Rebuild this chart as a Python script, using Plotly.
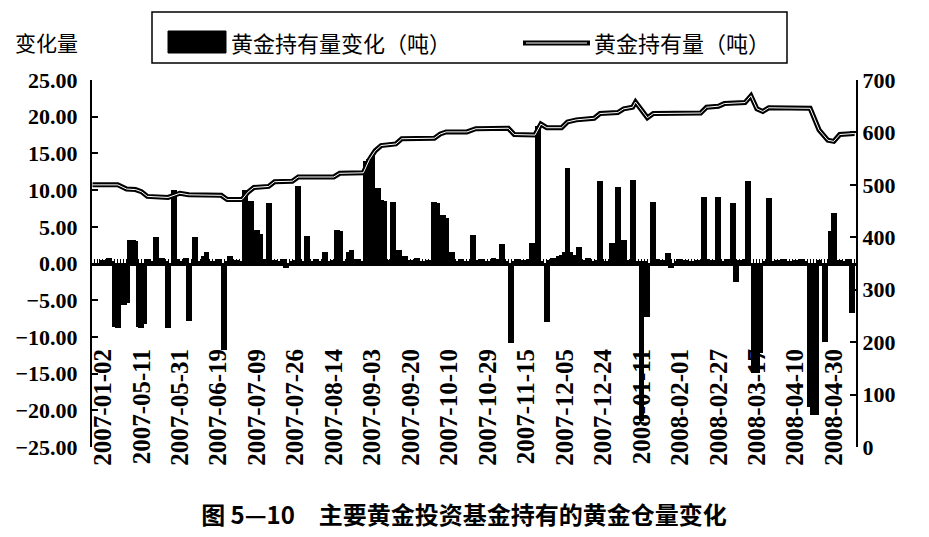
import plotly.graph_objects as go

# 横轴：交易日序号，每13个交易日标一个日期
tick_idx = [0, 13, 26, 39, 52, 65, 78, 91, 104, 117, 130, 143, 156, 169, 182, 195, 208, 221, 234, 247]
tick_labels = ["2007-01-02", "2007-05-11", "2007-05-31", "2007-06-19", "2007-07-09",
               "2007-07-26", "2007-08-14", "2007-09-03", "2007-09-20", "2007-10-10",
               "2007-10-29", "2007-11-15", "2007-12-05", "2007-12-24", "2008-01-11",
               "2008-02-01", "2008-02-27", "2008-03-17", "2008-04-10", "2008-04-30"]

# 黄金持有量变化（吨），每行13个交易日
change = [
    0.5, 0.0, 0.7, 0.3, -8.6, -8.8, 0.0, -5.6, -5.4, 3.2, 3.2, 3.0, -8.6,
    -8.8, -8.2, 0.6, 0.0, 0.4, 3.6, 0.0, 0.8, 0.3, -8.8, 0.0, 10.0, 0.6,
    0.0, 0.3, 0.8, -7.8, 0.0, 3.6, 0.4, 0.0, 1.0, 1.5, 0.4, 0.0, 0.3,
    0.6, 0.0, -11.8, 0.3, 1.0, 0.0, 0.5, 0.4, 0.0, 10.0, 0.5, 8.5, 0.0,
    4.6, 4.0, 0.0, 0.6, 8.3, 0.0, 0.5, 0.3, 0.0, 0.6, -0.6, 0.0, 0.4,
    0.5, 10.5, 0.0, 0.4, 3.8, 0.0, 0.3, 0.6, 0.0, 0.4, 1.5, 0.0, 0.3,
    0.5, 4.6, 4.4, 0.0, 0.4, 1.6, 1.8, 0.0, 0.6, 0.0, 0.4, 14.0, 14.2,
    14.8, 10.3, 10.3, 8.7, 8.5, 0.0, 0.5, 8.4, 0.0, 1.8, 0.4, 1.0, 0.0,
    0.5, 0.0, 0.7, 0.4, 0.0, 0.3, 0.5, 0.0, 8.4, 8.2, 0.5, 6.6, 6.2,
    0.6, 1.6, 0.0, 0.3, 0.6, 0.0, 0.4, 0.0, 3.9, 0.5, 0.0, 0.6, 0.4,
    0.0, 0.3, 0.7, 0.0, 0.6, 2.6, 0.4, 0.0, -10.8, 0.4, 0.6, 0.0, 0.5,
    0.0, 0.6, 2.8, 0.0, 18.8, 0.4, 0.0, -8.0, 0.5, 0.7, 0.0, 1.0, 1.2,
    1.5, 13.0, 1.5, 1.2, 0.0, 2.2, 0.5, 0.0, 0.7, 0.3, 0.0, 0.5, 11.2,
    0.4, 0.0, 0.3, 2.8, 0.5, 10.4, 0.0, 3.2, 0.4, 0.5, 11.4, 0.0, 0.4,
    -21.5, 0.4, -7.3, 0.0, 8.4, 0.6, 0.0, 0.5, 0.0, 1.4, -0.6, 0.0, 0.3,
    0.6, 0.0, 0.5, 0.4, 0.0, 0.3, 0.5, 0.0, 9.0, 0.6, 0.0, 0.5, 0.4,
    9.0, 0.0, 0.4, 0.6, 0.0, 8.2, -2.5, 0.5, 0.0, 0.6, 11.2, 0.0, -14.9,
    -14.9, -12.2, 0.0, 0.4, 8.9, 0.0, 0.3, 0.5, 0.0, 0.6, 0.3, 0.0, 0.4,
    0.5, 0.0, 0.6, 0.4, 0.0, -19.5, -20.6, -20.6, 0.5, 0.0, -10.7, 0.0, 4.4,
    6.9, 0.0, 0.5, 0.4, 0.0, 0.6, -6.7, 0.0,
]
days = list(range(len(change)))

# 黄金持有量（吨）：读图得到的折点
hold_x = [-3.5, 5, 8, 11, 13, 15, 22, 24, 26, 29,
          40, 42, 47, 49, 51, 56, 58, 64, 66, 78,
          80, 88, 90, 92, 94, 99, 101, 112, 114, 116,
          123, 126, 137, 139, 146, 148, 150, 155, 157, 160,
          166, 168, 174, 176, 179, 180, 182, 184, 186, 202,
          204, 208, 210, 217, 219, 221, 223, 225, 239, 242,
          245, 247, 249, 254]
hold_t = [500, 500, 492, 491, 487, 478, 476, 480, 484, 481,
          480, 472, 472, 486, 495, 497, 506, 507, 515, 515,
          522, 523, 548, 565, 575, 578, 588, 589, 597, 601,
          601, 607, 608, 596, 595, 616, 609, 609, 620, 624,
          627, 636, 638, 645, 648, 658, 642, 628, 636, 637,
          648, 650, 655, 657, 670, 645, 640, 647, 646, 605,
          585, 583, 596, 598]

W, H = 929, 537
PAD = 8                             # 页面 body 默认留白
L, R, T, B = 92, 856, 80, 447      # 绘图区像素边界（窗口坐标）
x_range = [-3.7, 254.5]


def fx(px):
    return (px - L) / (R - L)


def fy(py):
    return (B - py) / (B - T)


num_font = dict(family="Liberation Serif", size=22, color="black", weight="bold")
lbl_font = dict(family="Liberation Serif", size=25, color="black", weight="bold")
cjk = "Noto Sans CJK SC"

fig = go.Figure()
fig.add_trace(go.Bar(x=days, y=change, width=2.0, marker=dict(color="black", line_width=0),
                     name="黄金持有量变化（吨）", showlegend=False))
fig.add_trace(go.Scatter(x=hold_x, y=hold_t, yaxis="y2", mode="lines",
                         line=dict(color="black", width=5), showlegend=False))
fig.add_trace(go.Scatter(x=hold_x, y=hold_t, yaxis="y2", mode="lines",
                         line=dict(color="white", width=1.0), showlegend=False,
                         name="黄金持有量（吨）"))
# 零线上的分类刻度
fig.add_trace(go.Scatter(x=[0], y=[0], xaxis="x3", mode="markers",
                         marker=dict(opacity=0), showlegend=False, hoverinfo="skip"))

fig.update_layout(
    width=W - PAD, height=H - PAD,
    margin=dict(l=L - PAD, r=W - R, t=T - PAD, b=H - B, autoexpand=False),
    paper_bgcolor="white", plot_bgcolor="white",
    bargap=0, barmode="overlay",
    # 日期标签画在绘图区下部，被柱子压住
    xaxis=dict(range=x_range, tickvals=tick_idx, ticktext=tick_labels, tickangle=-90,
               ticks="", showline=False, showgrid=False, zeroline=False, automargin=False,
               anchor="free", position=fy(343), tickfont=lbl_font, ticklabelstandoff=0,
               layer="below traces"),
    xaxis3=dict(range=x_range, overlaying="x", anchor="free", position=0.5,
                showline=True, linecolor="black", linewidth=3, ticks="inside",
                tick0=0, dtick=1, ticklen=4, tickwidth=1, tickcolor="black",
                showticklabels=False, showgrid=False, zeroline=False, automargin=False),
    yaxis=dict(range=[-25, 25], dtick=5, tickformat=".2f", automargin=False,
               ticks="inside", ticklen=6, tickwidth=2, tickcolor="black",
               showline=True, linecolor="black", linewidth=2, showgrid=False,
               zeroline=False, tickfont=num_font, ticklabelstandoff=8),
    yaxis2=dict(range=[0, 700], dtick=100, overlaying="y", side="right", automargin=False,
                ticks="inside", ticklen=6, tickwidth=2, tickcolor="black",
                showline=True, linecolor="black", linewidth=2, showgrid=False,
                zeroline=False, tickfont=num_font, anchor="x", ticklabelstandoff=0),
    title=dict(text="<b>图 5—10　主要黄金投资基金持有的黄金仓量变化</b>",
               x=(464 - PAD) / (W - PAD), xanchor="center",
               y=1 - (516 - PAD) / (H - PAD), yref="container", yanchor="middle",
               font=dict(family=cjk, size=24, color="black"), automargin=False),
)

# 图例（手绘边框与样例）
fig.add_shape(type="rect", xref="paper", yref="paper", x0=fx(152), x1=fx(787), y0=fy(63), y1=fy(12),
              line=dict(color="black", width=1.5), fillcolor="white")
fig.add_shape(type="rect", xref="paper", yref="paper", x0=fx(168), x1=fx(226), y0=fy(53), y1=fy(31),
              line=dict(color="black", width=1), fillcolor="black")
fig.add_shape(type="line", xref="paper", yref="paper", x0=fx(523), x1=fx(590), y0=fy(43), y1=fy(43),
              line=dict(color="black", width=5))
fig.add_shape(type="line", xref="paper", yref="paper", x0=fx(526), x1=fx(587), y0=fy(43), y1=fy(43),
              line=dict(color="white", width=1.0))
fig.add_annotation(xref="paper", yref="paper", x=fx(229), y=fy(42), xanchor="left", yanchor="middle",
                   text="黄金持有量变化（吨）", showarrow=False, font=dict(family=cjk, size=22, color="black"))
fig.add_annotation(xref="paper", yref="paper", x=fx(592), y=fy(42), xanchor="left", yanchor="middle",
                   text="黄金持有量（吨）", showarrow=False, font=dict(family=cjk, size=22, color="black"))

# 左轴标题
fig.add_annotation(xref="paper", yref="paper", x=fx(46), y=fy(42), xanchor="center", yanchor="middle",
                   text="变化量", showarrow=False, font=dict(family=cjk, size=21, color="black"))

fig.write_html("out.html")
